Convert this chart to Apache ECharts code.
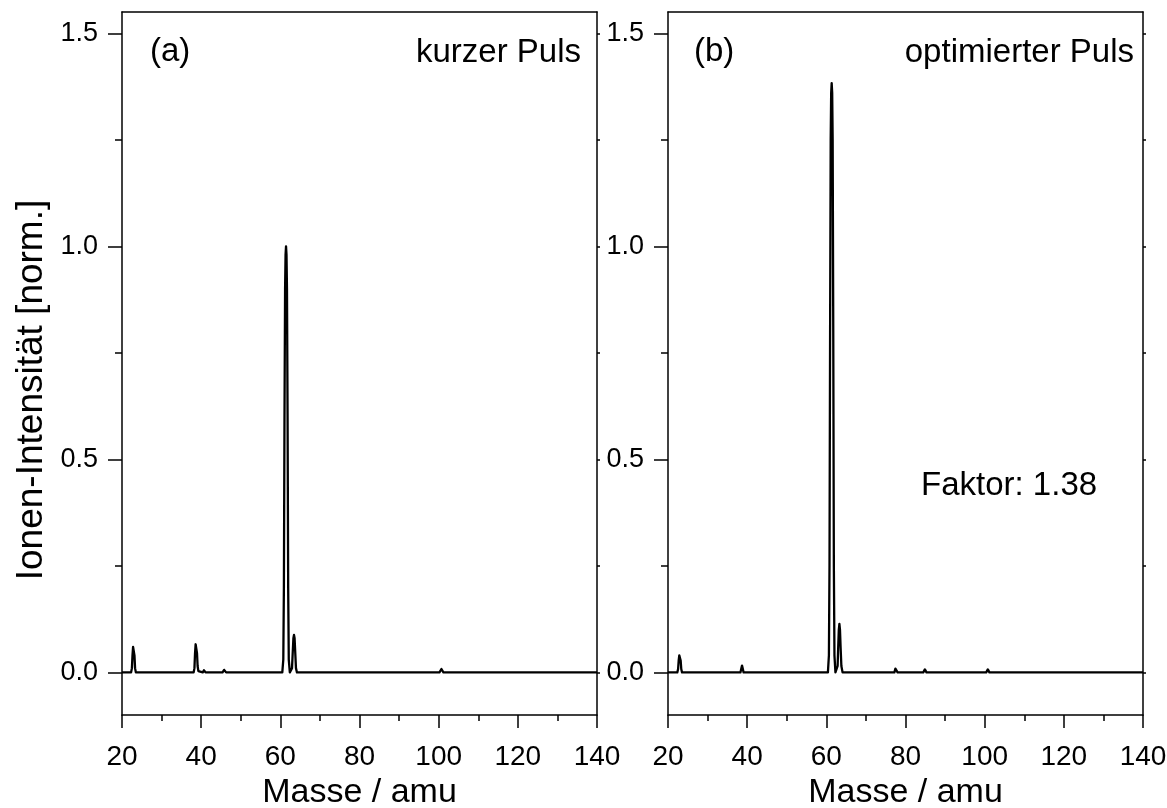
<!DOCTYPE html>
<html><head><meta charset="utf-8">
<script src="https://cdn.jsdelivr.net/npm/echarts@6/dist/echarts.min.js"></script>
<style>html,body{margin:0;padding:0;background:#fff}#c{width:1167px;height:808px}</style>
</head><body><div id="c"></div>
<script>
// Spectrum (a): kurzer Puls  [mass, intensity]
const spectrumA = [
 [20,0],[22.3,0],[22.5,0.01],[22.65,0.04],[22.8,0.06],[22.9,0.063],[23.0,0.06],[23.15,0.04],[23.3,0.01],[23.5,0],
 [38.1,0],[38.3,0.01],[38.45,0.045],[38.6,0.066],[38.7,0.07],[38.8,0.066],[38.95,0.045],[39.1,0.015],[39.3,0.003],[39.6,0],
 [40.4,0],[40.7,0.005],[41.1,0],
 [45.4,0],[45.8,0.006],[46.3,0],
 [60.5,0],[60.75,0.03],[60.9,0.2],[61.05,0.6],[61.2,0.9],[61.32,0.98],[61.44,1.0],[61.56,0.98],[61.68,0.9],[61.83,0.6],[61.98,0.2],[62.13,0.03],[62.4,0],
 [62.7,0],[62.95,0.01],[63.15,0.05],[63.3,0.08],[63.45,0.088],[63.6,0.08],[63.75,0.05],[63.95,0.01],[64.2,0],
 [77.3,0],[77.7,0.004],[78.1,0],
 [84.6,0],[85.0,0.002],[85.4,0],
 [91.6,0],[92.0,0.001],[92.4,0],
 [100.2,0],[100.7,0.008],[101.2,0],
 [107.6,0],[108.0,0.003],[108.4,0],
 [140,0]
];
// Spectrum (b): optimierter Puls
const spectrumB = [
 [20,0],[22.35,0],[22.55,0.008],[22.7,0.028],[22.85,0.04],[22.95,0.042],[23.05,0.04],[23.2,0.028],[23.35,0.008],[23.55,0],
 [38.3,0],[38.55,0.01],[38.7,0.016],[38.85,0.01],[39.1,0],
 [45.4,0],[45.8,0.004],[46.2,0],
 [60.4,0],[60.65,0.04],[60.8,0.25],[60.95,0.8],[61.1,1.25],[61.22,1.36],[61.35,1.383],[61.48,1.36],[61.6,1.25],[61.75,0.8],[61.9,0.25],[62.05,0.04],[62.3,0],
 [62.6,0],[62.85,0.015],[63.0,0.06],[63.15,0.1],[63.3,0.114],[63.45,0.1],[63.6,0.06],[63.8,0.015],[64.1,0],
 [68.7,0],[69.0,0.002],[69.3,0],
 [77.2,0],[77.45,0.009],[77.6,0.013],[77.75,0.009],[78.0,0],
 [79.5,0],[79.8,0.003],[80.1,0],
 [84.5,0],[84.9,0.007],[85.3,0],
 [100.4,0],[100.8,0.007],[101.2,0],
 [107.7,0],[108.0,0.002],[108.3,0],
 [116.3,0],[116.7,0.003],[117.1,0],
 [140,0]
];
const yMajor = [0, 0.5, 1.0, 1.5];
const yMinor = [0.25, 0.75, 1.25];
const yAll = [0, 0.25, 0.5, 0.75, 1.0, 1.25, 1.5];
const xLabel = 'Masse / amu';
const yLabel = 'Ionen-Intensität [norm.]';
const panelTags = ['(a)', '(b)'];
const panelTitles = ['kurzer Puls', 'optimierter Puls'];
const factorText = 'Faktor: 1.38';

const FONT = 'Liberation Sans, Arial, sans-serif';
const BLACK = '#000';
const chart = echarts.init(document.getElementById('c'));

const grids = [
  {left: 122, right: 570, top: 12, bottom: 93, outerBoundsMode: 'none', containLabel: false},
  {left: 668, right: 24, top: 12, bottom: 93, outerBoundsMode: 'none', containLabel: false}
];
const xAxes = [], yAxes = [], series = [];
grids.forEach((g, i) => {
  xAxes.push({
    type: 'value', gridIndex: i, position: 'bottom', min: 20, max: 140, interval: 20,
    name: xLabel, nameLocation: 'middle', nameGap: 58,
    nameTextStyle: {fontFamily: FONT, fontSize: 34, color: BLACK},
    axisLine: {show: true, onZero: false, lineStyle: {color: BLACK, width: 1.5}},
    axisTick: {show: true, inside: false, length: 13, lineStyle: {color: BLACK, width: 1.5}},
    minorTick: {show: true, splitNumber: 2, length: 6, lineStyle: {color: BLACK, width: 1.5}},
    axisLabel: {fontFamily: FONT, fontSize: 28, color: BLACK, margin: 28},
    splitLine: {show: false}
  });
  xAxes.push({
    type: 'value', gridIndex: i, position: 'top', min: 20, max: 140, interval: 20,
    axisLine: {show: true, onZero: false, lineStyle: {color: BLACK, width: 1.5}},
    axisTick: {show: false}, axisLabel: {show: false}, splitLine: {show: false}
  });
  yAxes.push({
    type: 'value', gridIndex: i, position: 'left', min: -0.1, max: 1.55,
    axisLine: {show: true, onZero: false, lineStyle: {color: BLACK, width: 1.5}},
    axisTick: {show: true, length: 14, customValues: yMajor, lineStyle: {color: BLACK, width: 1.5}},
    axisLabel: {fontFamily: FONT, fontSize: 27, color: BLACK, margin: 24, customValues: yMajor,
      formatter: v => v.toFixed(1)},
    splitLine: {show: false}
  });
  yAxes.push({
    type: 'value', gridIndex: i, position: 'left', min: -0.1, max: 1.55,
    axisLine: {show: false},
    axisTick: {show: true, length: 7, customValues: yMinor, lineStyle: {color: BLACK, width: 1.5}},
    axisLabel: {show: false}, splitLine: {show: false}
  });
  yAxes.push({
    type: 'value', gridIndex: i, position: 'right', min: -0.1, max: 1.55,
    axisLine: {show: true, onZero: false, lineStyle: {color: BLACK, width: 1.5}},
    axisTick: {show: true, length: 3, customValues: yAll, lineStyle: {color: BLACK, width: 1.5}},
    axisLabel: {show: false}, splitLine: {show: false}
  });
  series.push({
    type: 'line', xAxisIndex: i * 2, yAxisIndex: i * 3,
    data: i === 0 ? spectrumA : spectrumB,
    showSymbol: false, symbol: 'none', smooth: false,
    lineStyle: {color: BLACK, width: 2.3, join: 'round'}, silent: true, animation: false, z: 5
  });
});

const txt = (x, y, text, align, size, rot) => ({
  type: 'text', x: x, y: y, rotation: rot || 0,
  style: {text: text, fontFamily: FONT, fontSize: size || 33, fill: BLACK, textAlign: align, textVerticalAlign: 'middle'}
});

chart.setOption({
  animation: false,
  backgroundColor: '#fff',
  grid: grids,
  xAxis: xAxes,
  yAxis: yAxes,
  series: series,
  graphic: [
    txt(150, 52, panelTags[0], 'left'),
    txt(581, 53, panelTitles[0], 'right'),
    txt(694, 52, panelTags[1], 'left'),
    txt(1134, 53, panelTitles[1], 'right'),
    txt(921, 486, factorText, 'left'),
    txt(32, 390, yLabel, 'center', 37, Math.PI / 2)
  ]
});
</script></body></html>
